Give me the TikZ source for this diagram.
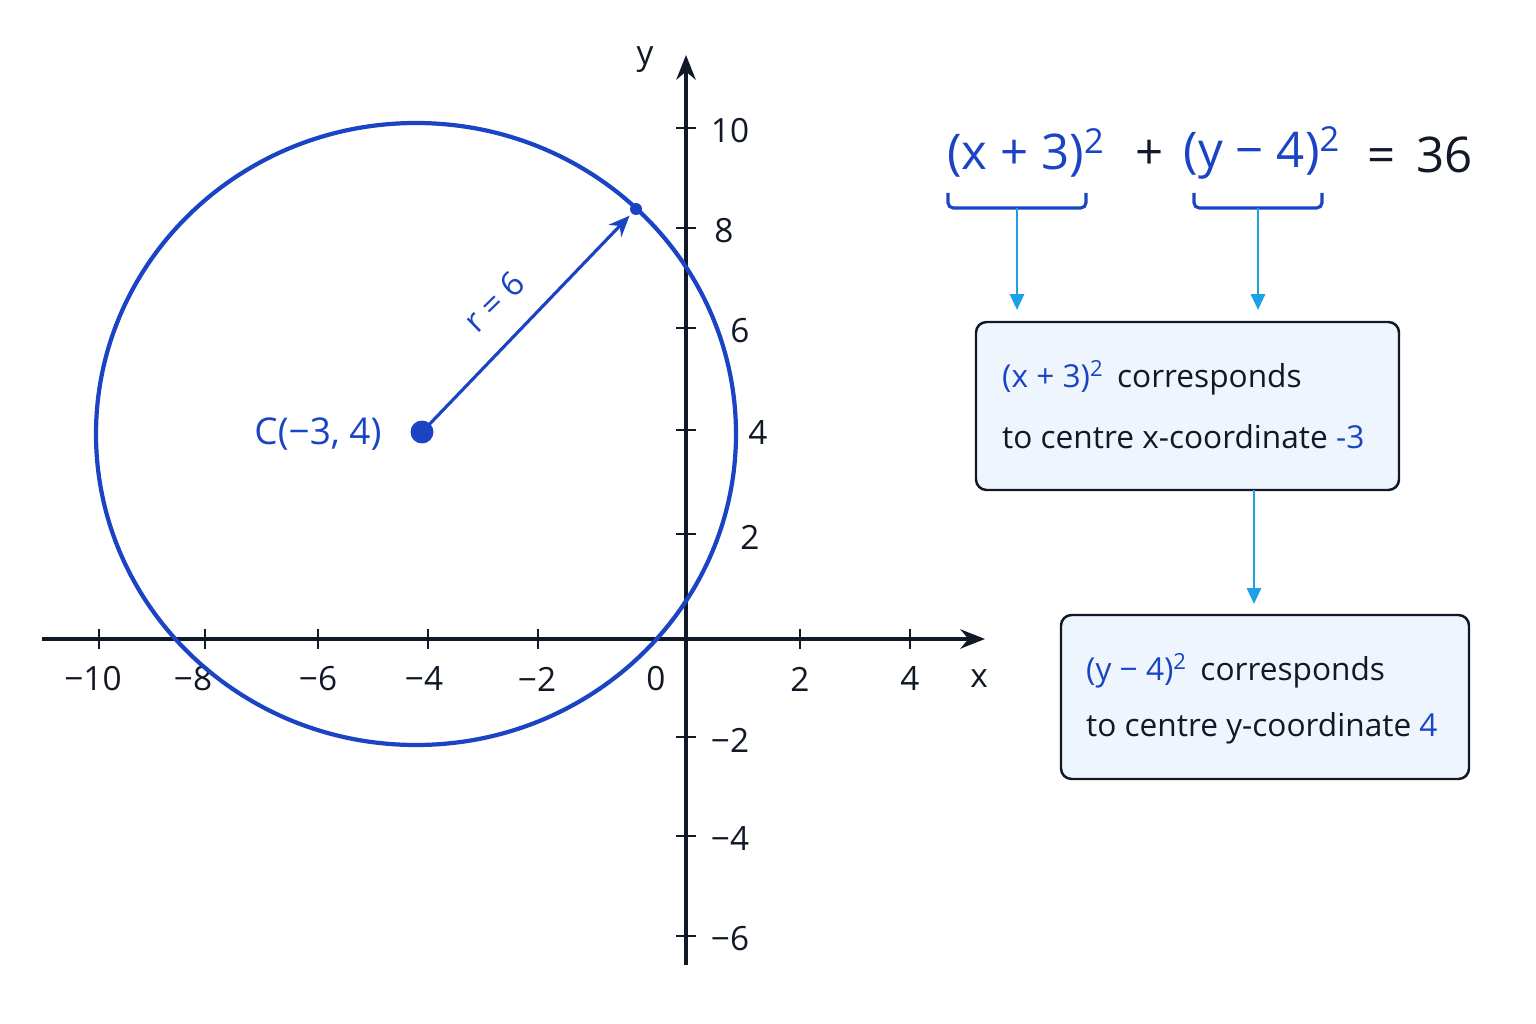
\documentclass[tikz,border=0pt]{standalone}
\usepackage{fontspec}
\setmainfont{Open Sans}
\usepackage{tikz}
\usetikzlibrary{calc, arrows.meta}
\definecolor{circblue}{HTML}{1A44C4}
\definecolor{arrowblue}{HTML}{1EA0E6}
\definecolor{inkdark}{HTML}{111827}
\definecolor{boxfill}{HTML}{EEF5FC}
\newcommand{\sqr}{\textsuperscript{2}}

\begin{document}
\begin{tikzpicture}[x=0.02cm, y=-0.02cm, inkdark,
    ticklab/.style={font=\fontsize{19}{23}\selectfont},
    boxlab/.style={font=\fontsize{18}{22}\selectfont},
    infobox/.style={draw=inkdark, line width=1.4pt, fill=boxfill, rounded corners=6pt},
    guide/.style={arrowblue, line width=1.4pt, -{Triangle[length=9pt,width=8pt]}}]
    \useasboundingbox (0,0) rectangle (1536,1024);

    % Axes
    \coordinate (xs) at (42,639);
    \coordinate (xe) at (985,639);
    \coordinate (ys) at (686,965);
    \coordinate (ye) at (686,55);
    \draw[line width=2pt, -{Stealth[length=14pt,width=11pt]}] (xs) -- (xe);
    \draw[line width=2pt, -{Stealth[length=14pt,width=11pt]}] (ys) -- (ye);
    \node[ticklab] (xl) at (979,679) {x};
    \node[ticklab] (yl) at (645,60) {y};

    % x ticks
    \foreach \px in {99, 205, 318, 428, 538, 800, 910}
        \draw[line width=1.5pt] (\px,629) -- (\px,649);
    \foreach \px/\lab in {93/−10, 193/−8, 318/−6, 424/−4, 537/−2, 656/0, 800/2, 910/4}
        \node[ticklab] at (\px,679) {\lab};

    % y ticks
    \foreach \py/\lx/\lab in {128/730/10, 228/724/8, 328/740/6, 430/758/4, 534/750/2, 737/730/−2, 836/730/−4, 936/730/−6}
    {
        \draw[line width=1.5pt] (676,\py) -- (696,\py);
        \node[ticklab] at (\lx,\py+3) {\lab};
    }

    % Circle
    \coordinate (C) at (422,432);
    \coordinate (P) at (636,209);
    \draw[circblue, line width=2.4pt] (416,434) ellipse [x radius=320, y radius=311];
    \fill[circblue] (C) circle (0.23cm);
    \fill[circblue] (P) circle (0.12cm);
    \draw[circblue, line width=1.8pt, -{Stealth[length=12pt,width=10pt]}] (C) -- ($(P)!0.03!(C)$);
    \node[circblue, ticklab, rotate=44] (rl) at (494,302) {r = 6};
    \node[circblue, font=\fontsize{21}{25}\selectfont] (cl) at (318,434) {C(−3, 4)};

    % Equation
    \node[circblue, font=\fontsize{28}{32}\selectfont] (t1) at (1026,153) {(x + 3)\sqr};
    \node[font=\fontsize{28}{32}\selectfont] (pl) at (1150,155) {+};
    \node[circblue, font=\fontsize{28}{32}\selectfont] (t2) at (1262,153) {(y − 4)\sqr};
    \node[font=\fontsize{28}{32}\selectfont] (eq) at (1420,155) {=\, 36};

    % Braces
    \draw[circblue, line width=1.8pt, rounded corners=3pt] (948,193) -- (948,208) -- (1086,208) -- (1086,193);
    \draw[circblue, line width=1.8pt, rounded corners=3pt] (1194,193) -- (1194,208) -- (1322,208) -- (1322,193);
    \coordinate (b1) at (1017,208);
    \coordinate (b2) at (1258,208);

    % Boxes
    \draw[infobox] (976,322) rectangle (1399,490);
    \draw[infobox] (1061,615) rectangle (1469,779);
    \node[anchor=west, boxlab] (l1) at (996,378) {\textcolor{circblue}{(x + 3)\sqr}\, corresponds};
    \node[anchor=west, boxlab] (l2) at (996,437) {to centre x-coordinate \textcolor{circblue}{-3}};
    \node[anchor=west, boxlab] (l3) at (1080,671) {\textcolor{circblue}{(y − 4)\sqr}\, corresponds};
    \node[anchor=west, boxlab] (l4) at (1080,728) {to centre y-coordinate \textcolor{circblue}{4}};

    % Guide arrows
    \coordinate (a1) at (1017,310);
    \coordinate (a2) at (1258,310);
    \coordinate (a3) at (1254,490);
    \coordinate (a4) at (1254,604);
    \draw[guide] (b1) -- (a1);
    \draw[guide] (b2) -- (a2);
    \draw[guide] (a3) -- (a4);
\end{tikzpicture}
\end{document}
